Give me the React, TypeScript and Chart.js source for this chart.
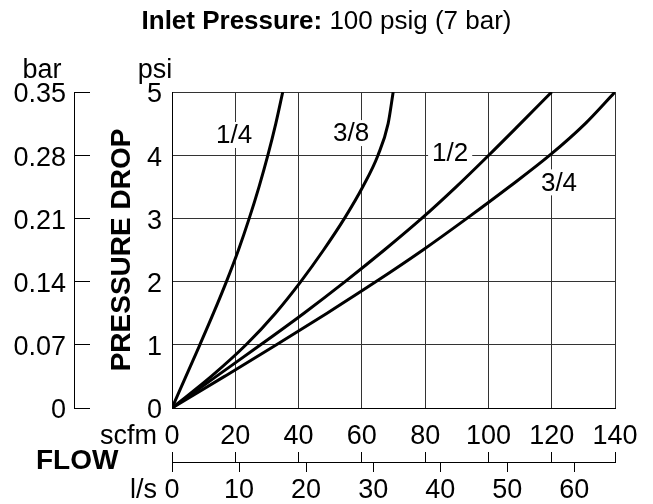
import React, { useEffect, useRef } from "react";
import { Chart, registerables } from "chart.js";

Chart.register(...registerables);

const FONT = '"Liberation Sans", Arial, Helvetica, sans-serif';

// Pressure drop levels (psi) at which the flow of each size was read
const psiLevels = [0, 0.5, 1, 1.5, 2, 2.5, 3, 3.5, 4, 4.5, 5];
// Flow (scfm) for each port size at the psi levels above
const flowQuarter = [0, 4.4, 8.8, 13.1, 17.2, 21.0, 24.4, 27.5, 30.3, 32.8, 35.0];
const flowThreeEighths = [0, 12.4, 23.4, 32.7, 40.7, 47.9, 54.5, 60.3, 65.1, 68.3, 69.9];
const flowHalf = [0, 14, 28, 41.7, 54.7, 67.1, 78.9, 89.8, 100.1, 110.1, 120];
const flowThreeQuarter = [0, 16.6, 33, 49, 64.5, 79.3, 93.2, 106.6, 119.4, 130.6, 140];
const seriesNames = ["1/4", "3/8", "1/2", "3/4"];
const seriesFlows = [flowQuarter, flowThreeEighths, flowHalf, flowThreeQuarter];

// Axis ranges and tick labels
const scfmMax = 140;
const scfmStep = 20;
const psiMax = 5;
const barMax = 0.35;
const barStep = 0.07;
const barTickLabels = ["0", "0.07", "0.14", "0.21", "0.28", "0.35"];
const scfmPerLps = 2.119;
const lpsStep = 10;

// Curve label anchors (scfm, psi)
const labelAnchorFlow = [19.6, 56.6, 87.9, 122.3];
const labelAnchorPsi = [4.32, 4.35, 4.04, 3.57];

const TICK_FONT = { family: FONT, size: 27 };

const decorPlugin = {
  id: "decor",
  beforeDatasetsDraw(chart: any) {
    const { ctx, scales } = chart;
    const xs = scales.x;
    const ys = scales.y;
    ctx.save();
    ctx.font = `26px ${FONT}`;
    ctx.textAlign = "center";
    ctx.textBaseline = "middle";
    seriesNames.forEach((name, i) => {
      const px = xs.getPixelForValue(labelAnchorFlow[i]);
      const py = ys.getPixelForValue(labelAnchorPsi[i]);
      const w = ctx.measureText(name).width;
      ctx.fillStyle = "#fff";
      ctx.fillRect(px - w / 2 - 4, py - 13, w + 8, 26);
      ctx.fillStyle = "#000";
      ctx.fillText(name, px, py + 1);
    });
    ctx.restore();
  },
  afterDraw(chart: any) {
    const { ctx, chartArea, scales } = chart;
    ctx.save();
    ctx.fillStyle = "#000";
    // Title
    const boldPart = "Inlet Pressure:";
    const regPart = " 100 psig (7 bar)";
    ctx.font = `bold 26px ${FONT}`;
    const wb = ctx.measureText(boldPart).width;
    ctx.font = `26px ${FONT}`;
    const wr = ctx.measureText(regPart).width;
    const start = (chart.width - wb - wr) / 2;
    ctx.textBaseline = "alphabetic";
    ctx.textAlign = "left";
    ctx.font = `bold 26px ${FONT}`;
    ctx.fillText(boldPart, start, 29);
    ctx.font = `26px ${FONT}`;
    ctx.fillText(regPart, start + wb, 29);

    // Unit labels
    ctx.font = `27px ${FONT}`;
    ctx.textAlign = "center";
    ctx.fillText("bar", scales.bar.left + 42, chartArea.top - 14);
    ctx.fillText("psi", scales.y.right - 17, chartArea.top - 14);

    ctx.textAlign = "right";
    ctx.textBaseline = "middle";
    ctx.fillText("scfm", chartArea.left - 15, scales.x.top + 12 + 16.2);
    ctx.fillText("l/s", chartArea.left - 15, scales.lps.top + 12 + 16.2);

    ctx.font = `bold 28px ${FONT}`;
    ctx.textAlign = "left";
    ctx.fillText("FLOW", 36, scales.lps.top - 1);
    ctx.restore();
  },
};

export default function App() {
  const canvasRef = useRef<HTMLCanvasElement | null>(null);

  useEffect(() => {
    if (!canvasRef.current) return;
    Chart.defaults.font.family = FONT;
    const datasets = seriesNames.map((name, i) => ({
      label: name,
      data: seriesFlows[i].map((f, j) => ({ x: f, y: psiLevels[j] })),
      borderColor: "#000",
      backgroundColor: "#000",
      borderWidth: 3,
      pointRadius: 0,
      fill: false,
      cubicInterpolationMode: "monotone" as const,
    }));

    const chart = new Chart(canvasRef.current, {
      type: "line",
      data: { datasets },
      options: {
        responsive: true,
        maintainAspectRatio: false,
        animation: false,
        layout: { padding: { top: 92, right: 38, bottom: 0, left: 0 } },
        plugins: {
          legend: { display: false },
          tooltip: { enabled: false },
          title: { display: false },
        },
        scales: {
          x: {
            type: "linear",
            position: "bottom",
            min: 0,
            max: scfmMax,
            weight: 0,
            ticks: { stepSize: scfmStep, padding: 12, font: TICK_FONT, color: "#000", maxRotation: 0, autoSkip: false },
            grid: { color: "#333", drawTicks: false, lineWidth: 1 },
            border: { display: true, color: "#000" },
            afterFit: (s: any) => { s.height = 44; },
          },
          x2: {
            type: "linear",
            position: "bottom",
            min: 0,
            max: scfmMax,
            weight: 1,
            ticks: { display: false, stepSize: scfmStep },
            grid: { drawOnChartArea: false, drawTicks: true, tickLength: 10, color: "#000" },
            border: { display: false },
            afterFit: (s: any) => { s.height = 10; },
          },
          lps: {
            type: "linear",
            position: "bottom",
            min: 0,
            max: scfmMax / scfmPerLps,
            weight: 2,
            ticks: { stepSize: lpsStep, includeBounds: false, padding: 2, font: TICK_FONT, color: "#000", maxRotation: 0, autoSkip: false },
            grid: { drawOnChartArea: false, drawTicks: true, tickLength: 10, color: "#000" },
            border: { display: true, color: "#000" },
            afterFit: (s: any) => { s.height = 42; },
          },
          y: {
            type: "linear",
            position: "left",
            min: 0,
            max: psiMax,
            weight: 0,
            ticks: { stepSize: 1, padding: 10, labelOffset: 3, font: TICK_FONT, color: "#000" },
            grid: { color: "#333", drawTicks: false, lineWidth: 1 },
            border: { display: true, color: "#000" },
            title: {
              display: true,
              text: "PRESSURE DROP",
              color: "#000",
              font: { family: FONT, size: 28, weight: "bold" },
              padding: { top: 15, bottom: 0 },
            },
            afterFit: (s: any) => { s.width = 82; },
          },
          barTicks: {
            type: "linear",
            position: "left",
            min: 0,
            max: psiMax,
            weight: 1,
            ticks: { display: false, stepSize: 1 },
            grid: { drawOnChartArea: false, drawTicks: true, tickLength: 16, color: "#000" },
            border: { display: false },
            afterFit: (s: any) => { s.width = 16; },
          },
          bar: {
            type: "linear",
            position: "left",
            min: 0,
            max: barMax,
            weight: 2,
            ticks: {
              stepSize: barStep,
              padding: 8,
              labelOffset: 3,
              font: TICK_FONT,
              color: "#000",
              callback: (v: any) => barTickLabels[Math.round(Number(v) / barStep)] ?? "",
            },
            grid: { drawOnChartArea: false, drawTicks: false },
            border: { display: true, color: "#000" },
            afterFit: (s: any) => { s.width = 74; },
          },
        },
      } as any,
      plugins: [decorPlugin],
    });
    return () => chart.destroy();
  }, []);

  return (
    <div style={{ position: "fixed", left: 0, top: 0, width: 653, height: 504, background: "#fff" }}>
      <canvas ref={canvasRef} />
    </div>
  );
}
